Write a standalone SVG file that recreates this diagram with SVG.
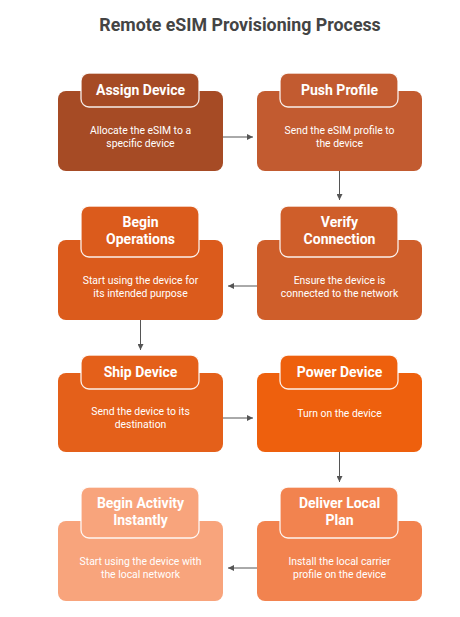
<svg xmlns="http://www.w3.org/2000/svg" width="460" height="617" viewBox="0 0 460 617">
<style>
.title{font-family:Roboto,"Liberation Sans",sans-serif;font-weight:bold;font-size:17.8px;fill:#444444;text-anchor:middle}
.hd{font-family:Roboto,"Liberation Sans",sans-serif;font-weight:bold;font-size:14px;fill:#ffffff;text-anchor:middle}
.tx{font-family:Roboto,"Liberation Sans",sans-serif;font-size:10.4px;fill:#ffffff;text-anchor:middle}
.hb{stroke:#ffffff;stroke-opacity:0.9;stroke-width:1.3}
.cn{stroke:#555555;stroke-width:1;fill:none;marker-end:url(#ah)}
</style>
<defs>
<marker id="ah" viewBox="0 0 10 10" refX="10" refY="5" markerWidth="6" markerHeight="6" markerUnits="userSpaceOnUse" orient="auto">
<path d="M0,0 L10,5 L0,10 z" fill="#555555"/>
</marker>
</defs>
<rect width="460" height="617" fill="#ffffff"/>
<text class="title" x="240" y="31">Remote eSIM Provisioning Process</text>
<g id="connectors">
<line class="cn" x1="223" y1="137" x2="253" y2="137"/>
<line class="cn" x1="339.5" y1="171" x2="339.5" y2="200"/>
<line class="cn" x1="257" y1="286" x2="228" y2="286"/>
<line class="cn" x1="140.5" y1="320" x2="140.5" y2="350"/>
<line class="cn" x1="223" y1="418" x2="253" y2="418"/>
<line class="cn" x1="339.5" y1="452" x2="339.5" y2="482"/>
<line class="cn" x1="257" y1="568" x2="228" y2="568"/>
</g>
<g id="assign-device">
<rect x="58" y="91" width="165" height="80" rx="8" fill="#A64B25"/>
<rect class="hb" x="81" y="73" width="118" height="34" rx="8" fill="#A64B25"/>
<text class="hd" x="140.5" y="95">Assign Device</text>
<text class="tx" x="140.5" y="134">Allocate the eSIM to a</text>
<text class="tx" x="140.5" y="146.5">specific device</text>
</g>
<g id="push-profile">
<rect x="257" y="91" width="165" height="80" rx="8" fill="#C25B30"/>
<rect class="hb" x="280" y="73" width="118" height="34" rx="8" fill="#C25B30"/>
<text class="hd" x="339.5" y="95">Push Profile</text>
<text class="tx" x="339.5" y="134">Send the eSIM profile to</text>
<text class="tx" x="339.5" y="146.5">the device</text>
</g>
<g id="begin-operations">
<rect x="58" y="240" width="165" height="80" rx="8" fill="#DB5B1C"/>
<rect class="hb" x="81" y="206" width="118" height="51" rx="8" fill="#DB5B1C"/>
<text class="hd" x="140.5" y="227">Begin</text>
<text class="hd" x="140.5" y="244">Operations</text>
<text class="tx" x="140.5" y="284">Start using the device for</text>
<text class="tx" x="140.5" y="296.5">its intended purpose</text>
</g>
<g id="verify-connection">
<rect x="257" y="240" width="165" height="80" rx="8" fill="#CF5E2A"/>
<rect class="hb" x="280" y="206" width="118" height="51" rx="8" fill="#CF5E2A"/>
<text class="hd" x="339.5" y="227">Verify</text>
<text class="hd" x="339.5" y="244">Connection</text>
<text class="tx" x="339.5" y="284">Ensure the device is</text>
<text class="tx" x="339.5" y="296.5">connected to the network</text>
</g>
<g id="ship-device">
<rect x="58" y="373" width="165" height="79" rx="8" fill="#E4601A"/>
<rect class="hb" x="81" y="355" width="118" height="34" rx="8" fill="#E4601A"/>
<text class="hd" x="140.5" y="377">Ship Device</text>
<text class="tx" x="140.5" y="415">Send the device to its</text>
<text class="tx" x="140.5" y="427.5">destination</text>
</g>
<g id="power-device">
<rect x="257" y="373" width="165" height="79" rx="8" fill="#EE600D"/>
<rect class="hb" x="280" y="355" width="118" height="34" rx="8" fill="#EE600D"/>
<text class="hd" x="339.5" y="377">Power Device</text>
<text class="tx" x="339.5" y="417">Turn on the device</text>
</g>
<g id="begin-activity-instantly">
<rect x="58" y="521" width="165" height="80" rx="8" fill="#F8A47C"/>
<rect class="hb" x="81" y="487" width="118" height="51" rx="8" fill="#F8A47C"/>
<text class="hd" x="140.5" y="508">Begin Activity</text>
<text class="hd" x="140.5" y="525">Instantly</text>
<text class="tx" x="140.5" y="565">Start using the device with</text>
<text class="tx" x="140.5" y="577.5">the local network</text>
</g>
<g id="deliver-local-plan">
<rect x="257" y="521" width="165" height="80" rx="8" fill="#F2834F"/>
<rect class="hb" x="280" y="487" width="118" height="51" rx="8" fill="#F2834F"/>
<text class="hd" x="339.5" y="508">Deliver Local</text>
<text class="hd" x="339.5" y="525">Plan</text>
<text class="tx" x="339.5" y="565">Install the local carrier</text>
<text class="tx" x="339.5" y="577.5">profile on the device</text>
</g>
</svg>
